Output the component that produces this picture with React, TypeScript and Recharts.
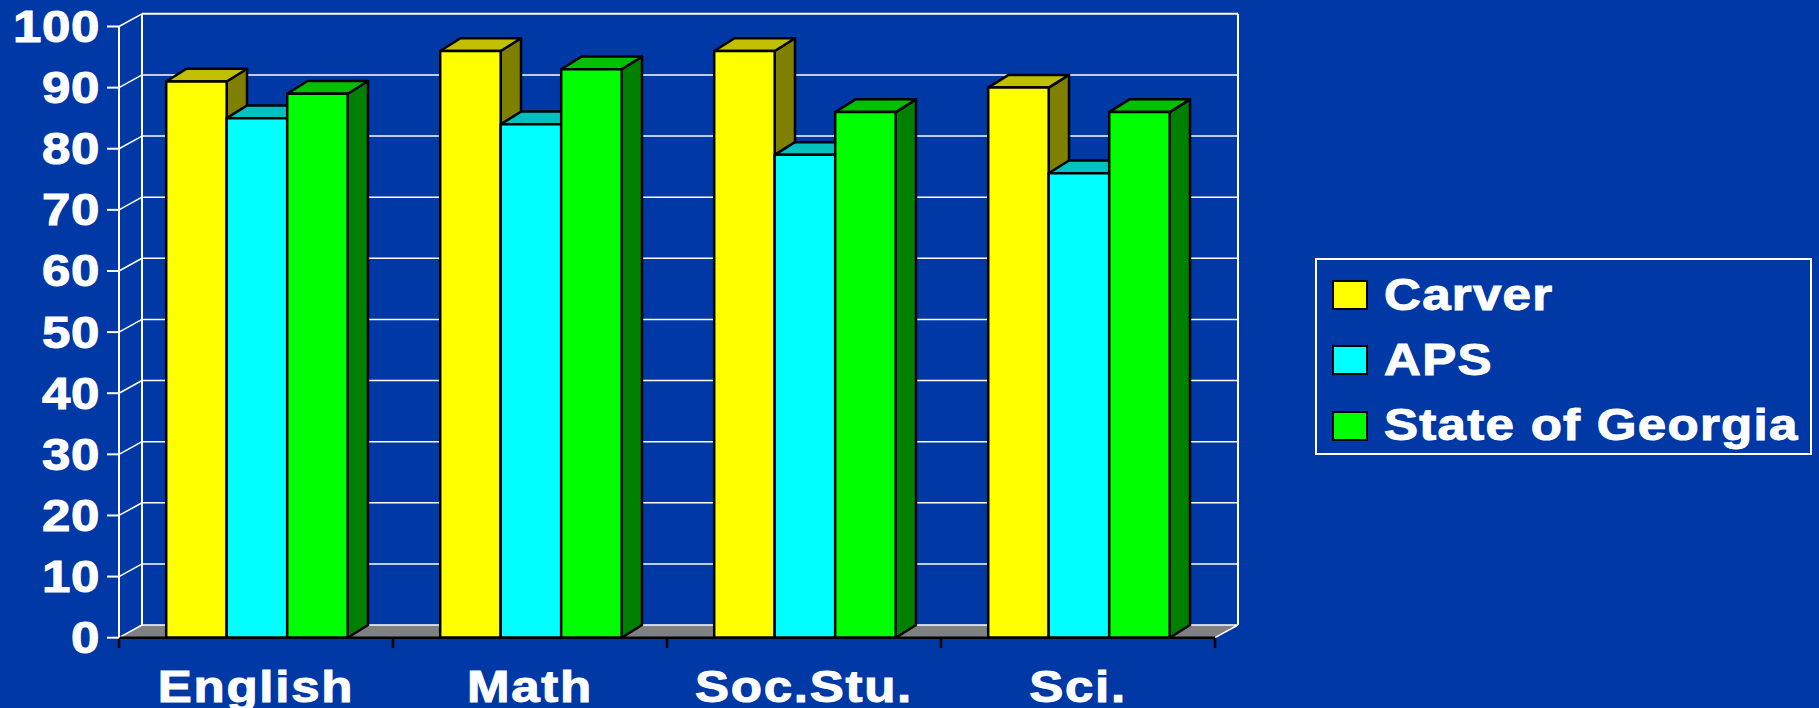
import { BarChart, Bar, XAxis, YAxis, CartesianGrid, Legend } from 'recharts'

const subjects = ['English', 'Math', 'Soc.Stu.', 'Sci.']
const carver = [91, 96, 96, 90]
const aps = [85, 84, 79, 76]
const georgia = [89, 93, 86, 86]
const yTicks = [0, 10, 20, 30, 40, 50, 60, 70, 80, 90, 100]

const data = subjects.map((subject, i) => ({
  subject,
  Carver: carver[i],
  APS: aps[i],
  'State of Georgia': georgia[i]
}))

const NAVY = '#0039A6'
const FONT = '"Liberation Sans", Arial, sans-serif'
const WIDTH = 1819
const HEIGHT = 708
const PLOT_LEFT = 119
const PLOT_TOP = 26.5
const PLOT_WIDTH = 1096
const PLOT_HEIGHT = 611.2
const PLOT_BOTTOM = PLOT_TOP + PLOT_HEIGHT
const BAND = PLOT_WIDTH / subjects.length
// wall depth and bar depth of the fake 3D look
const WALL_DX = 23
const WALL_DY = 12.7
const BAR_DX = 20.3
const BAR_DY = 12.7
const BAR_NUDGE = 1.2

const Box = (props: any) => {
  const { x, y, width, height, fill, topFill, sideFill } = props
  const left = x + BAR_NUDGE
  const right = left + width
  const bottom = y + height
  return (
    <g stroke="#000" strokeWidth={2.5} strokeLinejoin="round">
      <polygon
        fill={sideFill}
        points={`${right},${y} ${right + BAR_DX},${y - BAR_DY} ${right + BAR_DX},${bottom - BAR_DY} ${right},${bottom}`}
      />
      <polygon
        fill={topFill}
        points={`${left},${y} ${left + BAR_DX},${y - BAR_DY} ${right + BAR_DX},${y - BAR_DY} ${right},${y}`}
      />
      <rect x={left} y={y} width={width} height={height} fill={fill} />
    </g>
  )
}

// each grid line runs along the back wall, with a diagonal down the side wall
const WallLine = (props: any) => {
  const { x1, x2, y1 } = props
  const backY = y1 - WALL_DY
  const backLeft = x1 + WALL_DX
  const backRight = x2 + WALL_DX
  const isTop = Math.abs(y1 - PLOT_TOP) < 1
  const isFloor = Math.abs(y1 - PLOT_BOTTOM) < 1
  return (
    <g key={props.key} stroke="#fff" fill="none">
      {isFloor && (
        <polygon
          fill="#808080"
          stroke="none"
          points={`${x1},${y1} ${backLeft},${backY} ${backRight},${backY} ${x2},${y1}`}
        />
      )}
      <line x1={x1} y1={y1} x2={backLeft} y2={backY} strokeWidth={1.5} />
      <line x1={backLeft} y1={backY} x2={backRight} y2={backY} strokeWidth={isTop ? 2 : 1.5} />
      {isFloor && <line x1={x2} y1={y1} x2={backRight} y2={backY} strokeWidth={1.5} />}
      {isTop && (
        <>
          <line x1={backLeft} y1={backY} x2={backLeft} y2={PLOT_BOTTOM - WALL_DY} strokeWidth={2} />
          <line x1={backRight} y1={backY} x2={backRight} y2={PLOT_BOTTOM - WALL_DY} strokeWidth={2} />
        </>
      )}
    </g>
  )
}

const ValueTick = (props: any) => {
  const { y, payload } = props
  return (
    <g>
      <line x1={107} y1={y} x2={PLOT_LEFT} y2={y} stroke="#fff" strokeWidth={2} />
      <text
        transform={`translate(100 ${y + 15.5}) scale(1.16 1)`}
        textAnchor="end"
        fontFamily={FONT}
        fontWeight="bold"
        fontSize={44}
        letterSpacing={0.5}
        stroke="#fff"
        strokeWidth={1}
        fill="#fff"
      >
        {payload.value}
      </text>
    </g>
  )
}

const SubjectTick = (props: any) => {
  const { x, payload, index } = props
  return (
    <g>
      <line x1={x - BAND / 2} y1={PLOT_BOTTOM} x2={x - BAND / 2} y2={648} stroke="#000" strokeWidth={2.5} />
      {index === subjects.length - 1 && (
        <line x1={x + BAND / 2} y1={PLOT_BOTTOM} x2={x + BAND / 2} y2={648} stroke="#000" strokeWidth={2.5} />
      )}
      <text
        transform={`translate(${x} 702) scale(1.16 1)`}
        textAnchor="middle"
        fontFamily={FONT}
        fontWeight="bold"
        fontSize={44}
        letterSpacing={1.5}
        stroke="#fff"
        strokeWidth={1}
        fill="#fff"
      >
        {payload.value}
      </text>
    </g>
  )
}

const LegendBox = (props: any) => (
  <div
    style={{
      boxSizing: 'border-box',
      width: 497,
      height: 197,
      border: '2px solid #fff',
      position: 'relative'
    }}
  >
    {props.payload.map((entry: any, i: number) => (
      <div key={entry.value}>
        <div
          style={{
            position: 'absolute',
            boxSizing: 'border-box',
            left: 15,
            top: 20 + i * 65.3,
            width: 36,
            height: 30,
            background: entry.color,
            border: '2.5px solid #000'
          }}
        />
        <div
          style={{
            position: 'absolute',
            left: 67,
            top: 10 + i * 65,
            fontFamily: FONT,
            fontWeight: 'bold',
            fontSize: 44,
            lineHeight: '50px',
            letterSpacing: 1.1,
            color: '#fff',
            WebkitTextStroke: '1px #fff',
            whiteSpace: 'nowrap',
            transform: 'scaleX(1.16)',
            transformOrigin: 'left center'
          }}
        >
          {entry.value}
        </div>
      </div>
    ))}
  </div>
)

export default function App() {
  return (
    <div style={{ position: 'fixed', left: 0, top: 0, width: WIDTH, height: HEIGHT, background: NAVY, overflow: 'hidden' }}>
      <BarChart
        width={WIDTH}
        height={HEIGHT}
        data={data}
        margin={{ top: PLOT_TOP, right: WIDTH - PLOT_LEFT - PLOT_WIDTH, bottom: 0, left: 0 }}
        barCategoryGap={46}
        barGap={0}
      >
        <CartesianGrid vertical={false} horizontal={(p: any) => <WallLine {...p} />} />
        <XAxis
          dataKey="subject"
          height={HEIGHT - PLOT_BOTTOM}
          axisLine={{ stroke: '#000', strokeWidth: 2.5 }}
          tickLine={false}
          interval={0}
          tick={(p: any) => <SubjectTick {...p} />}
        />
        <YAxis
          width={PLOT_LEFT}
          domain={[0, 100]}
          ticks={yTicks}
          interval={0}
          axisLine={{ stroke: '#fff', strokeWidth: 2 }}
          tickLine={false}
          tick={(p: any) => <ValueTick {...p} />}
        />
        <Legend
          layout="vertical"
          align="center"
          verticalAlign="middle"
          itemSorter={null}
          wrapperStyle={{ left: 1315, top: 258, right: 'auto', bottom: 'auto', width: 497, height: 197 }}
          content={(p: any) => <LegendBox {...p} />}
        />
        <Bar
          dataKey="Carver"
          fill="#FFFF00"
          barSize={60.5}
          isAnimationActive={false}
          shape={(p: any) => <Box {...p} topFill="#C0C000" sideFill="#808000" />}
        />
        <Bar
          dataKey="APS"
          fill="#00FFFF"
          barSize={60.5}
          isAnimationActive={false}
          shape={(p: any) => <Box {...p} topFill="#00C0C0" sideFill="#008080" />}
        />
        <Bar
          dataKey="State of Georgia"
          fill="#00FF00"
          barSize={60.5}
          isAnimationActive={false}
          shape={(p: any) => <Box {...p} topFill="#00C000" sideFill="#008000" />}
        />
      </BarChart>
    </div>
  )
}
